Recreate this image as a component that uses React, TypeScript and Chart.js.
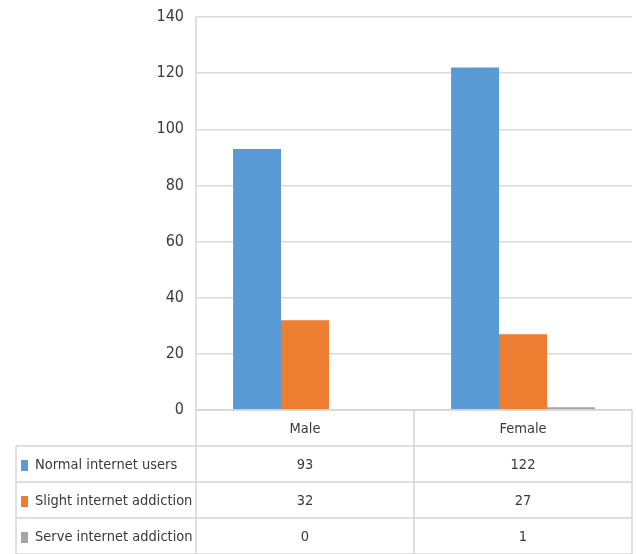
import React, { useEffect, useRef } from "react";
import { Chart, registerables } from "chart.js";

Chart.register(...registerables);

const categories = ["Male", "Female"];
const seriesLabels = ["Normal internet users", "Slight internet addiction", "Serve internet addiction"];
const normalUsers = [93, 122];
const slightAddiction = [32, 27];
const severeAddiction = [0, 1];
const seriesColors = ["#5B9BD5", "#ED7D31", "#A5A5A5"];
const yMin = 0;
const yMax = 140;
const yStep = 20;

const FONT = "'Liberation Sans Narrow', 'DejaVu Sans Condensed', 'Arial Narrow', sans-serif";
const LINE = "#D4D4D4";
const TEXT = "#3A3A3A";

const tablePlugin = {
  id: "dataTable",
  afterDraw(chart: any) {
    const { ctx, chartArea, scales } = chart;
    const x = scales.x;
    const rowH = 36;
    const top = chartArea.bottom;
    const left = chartArea.left;
    const right = chartArea.right;
    const tableLeft = 16;
    const nRows = chart.data.datasets.length;
    const bottom = top + rowH * (nRows + 1);
    ctx.save();
    ctx.strokeStyle = LINE;
    ctx.lineWidth = 1.5;
    ctx.beginPath();
    ctx.moveTo(left, top);
    ctx.lineTo(right, top);
    ctx.stroke();
    for (let r = 0; r <= nRows; r++) {
      const y = top + rowH * (r + 1);
      ctx.beginPath();
      ctx.moveTo(tableLeft, y);
      ctx.lineTo(right, y);
      ctx.stroke();
    }
    const n = chart.data.labels.length;
    const catW = (right - left) / n;
    ctx.beginPath();
    ctx.moveTo(left, chartArea.top);
    ctx.lineTo(left, bottom);
    ctx.stroke();
    for (let i = 1; i <= n; i++) {
      const xx = left + catW * i;
      ctx.beginPath();
      ctx.moveTo(xx, top);
      ctx.lineTo(xx, bottom);
      ctx.stroke();
    }
    ctx.beginPath();
    ctx.moveTo(tableLeft, top + rowH);
    ctx.lineTo(tableLeft, bottom);
    ctx.stroke();

    ctx.fillStyle = TEXT;
    ctx.font = `14.5px ${FONT}`;
    ctx.textBaseline = "middle";
    ctx.textAlign = "center";
    chart.data.labels.forEach((lab: string, i: number) => {
      ctx.fillText(lab, x.getPixelForValue(i), top + rowH / 2 + 1);
    });
    chart.data.datasets.forEach((ds: any, r: number) => {
      const cy = top + rowH * (r + 1) + rowH / 2 + 1;
      ctx.fillStyle = ds.backgroundColor;
      ctx.fillRect(tableLeft + 5, cy - 5, 7, 11);
      ctx.fillStyle = TEXT;
      ctx.textAlign = "left";
      ctx.fillText(ds.label, tableLeft + 19, cy);
      ctx.textAlign = "center";
      ds.data.forEach((v: number, i: number) => {
        ctx.fillText(String(v), x.getPixelForValue(i), cy);
      });
    });
    ctx.restore();
  },
};

export default function App() {
  const ref = useRef<HTMLCanvasElement>(null);
  useEffect(() => {
    document.body.style.margin = "0";
    const c = ref.current!;
    const chart = new Chart(c, {
      type: "bar",
      data: {
        labels: categories,
        datasets: [
          { label: seriesLabels[0], data: normalUsers, backgroundColor: seriesColors[0] },
          { label: seriesLabels[1], data: slightAddiction, backgroundColor: seriesColors[1] },
          { label: seriesLabels[2], data: severeAddiction, backgroundColor: seriesColors[2] },
        ],
      },
      options: {
        animation: false,
        responsive: false,
        devicePixelRatio: 1,
        layout: { padding: { top: 17, bottom: 144, left: 0, right: 4 } },
        plugins: { legend: { display: false }, tooltip: { enabled: false } },
        datasets: { bar: { categoryPercentage: 0.66, barPercentage: 1.0 } },
        scales: {
          x: { display: false },
          y: {
            min: yMin,
            max: yMax,
            afterFit: (s: any) => {
              s.width = 196;
              s.paddingTop = 0;
              s.paddingBottom = 0;
            },
            border: { display: false },
            grid: { color: "#D9D9D9", lineWidth: 1.5, drawTicks: false },
            ticks: {
              stepSize: yStep,
              padding: 12,
              color: TEXT,
              font: { family: FONT, size: 16 },
            },
          },
        },
      },
      plugins: [tablePlugin],
    });
    return () => chart.destroy();
  }, []);
  return <canvas ref={ref} width={636} height={554} style={{ display: "block" }} />;
}
